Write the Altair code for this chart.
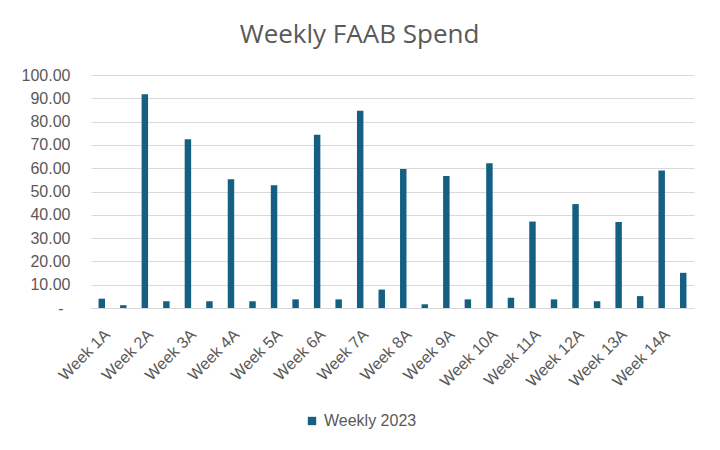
import altair as alt
import pandas as pd

weeks = []
for i in range(1, 15):
    weeks.append(f"Week {i}A")
    weeks.append(f"Week {i}B")

values = [4.0, 1.2, 91.7, 2.9, 72.4, 2.9, 55.3, 2.9, 52.7, 3.7,
          74.4, 3.7, 84.7, 7.9, 59.7, 1.6, 56.6, 3.7, 62.1, 4.4,
          37.1, 3.7, 44.6, 2.9, 36.9, 5.1, 59.0, 15.1]
series = "Weekly 2023"

df = pd.DataFrame({"week": weeks, "spend": values, "series": [series] * len(weeks)})

gray = "#595959"
font = "Liberation Sans"

chart = alt.Chart(df).mark_bar(color="#156082").encode(
    x=alt.X("week:N", sort=weeks,
            scale=alt.Scale(paddingInner=0.7, paddingOuter=0.35),
            axis=alt.Axis(title=None, labelAngle=-45, ticks=False,
                          labelExpr="slice(datum.value, -1) == 'A' ? datum.value : ''",
                          labelFontSize=16, labelColor=gray, labelFont=font,
                          domainColor="#D9D9D9", labelPadding=18)),
    y=alt.Y("spend:Q", scale=alt.Scale(domain=[0, 100]),
            axis=alt.Axis(title=None, values=list(range(0, 101, 10)),
                          labelExpr="datum.value == 0 ? '-' : format(datum.value, '.2f')",
                          labelFontSize=16, labelColor=gray, labelFont=font,
                          domain=False, ticks=False, gridColor="#D9D9D9",
                          labelPadding={"condition": {"test": "datum.value == 0", "value": 28},
                                        "value": 21})),
    color=alt.Color("series:N", scale=alt.Scale(range=["#156082"]),
                    legend=alt.Legend(title=None, orient="none", legendX=213, legendY=338,
                                      symbolType="square", symbolSize=70,
                                      labelFontSize=16, labelColor=gray, labelFont=font)),
).properties(
    width=603, height=233,
    autosize="none",
    padding={"left": 83, "top": 67, "right": 18, "bottom": 134},
    title=alt.Title("Weekly FAAB Spend", fontSize=26, font="Open Sans",
                    fontWeight="normal", color=gray, anchor="middle", dx=-33, offset=19),
).configure_view(stroke=None)

chart.save("out.html", embed_options={"renderer": "svg", "actions": False})
